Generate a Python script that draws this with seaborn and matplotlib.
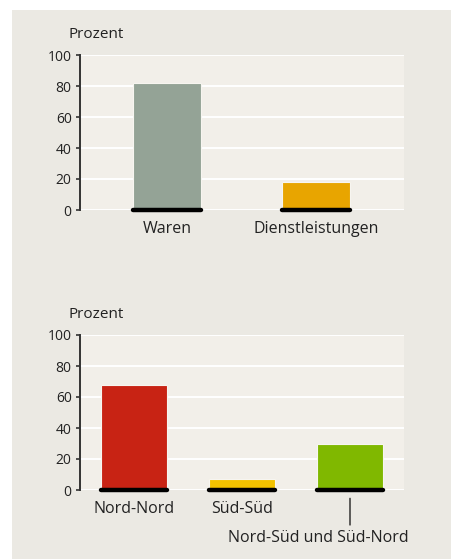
import matplotlib
matplotlib.use("Agg")
import matplotlib.pyplot as plt
import seaborn as sns
import pandas as pd
from matplotlib.patches import Rectangle

# Data
sektoren = ["Waren", "Dienstleistungen"]
sektor_werte = [82, 18]
sektor_farben = ["#94a396", "#e8a500"]

richtungen = ["Nord-Nord", "Süd-Süd", "Nord-Süd und Süd-Nord"]
richtung_werte = [68, 7, 30]
richtung_farben = ["#c82314", "#f2c200", "#80b800"]

y_ticks = [0, 20, 40, 60, 80, 100]

sns.set_theme(style="white")
plt.rcParams["font.family"] = ["Open Sans", "DejaVu Sans"]

panel_bg = "#ebe9e3"
plot_bg = "#f2efe9"
text_col = "#222222"

fig = plt.figure(figsize=(4.51, 5.59), dpi=100)
fig.patch.set_facecolor("white")
fig.patches.append(Rectangle((12 / 451, 0), 1, 1 - 10 / 559, transform=fig.transFigure,
                             facecolor=panel_bg, edgecolor="none", zorder=-10))

ax1 = fig.add_axes([80 / 451, 1 - 210 / 559, 324 / 451, 155 / 559])
ax2 = fig.add_axes([80 / 451, 1 - 490 / 559, 324 / 451, 155 / 559])


def style_axis(ax, cats, vals, cols, width, xlim):
    df = pd.DataFrame({"cat": cats, "val": vals})
    sns.barplot(data=df, x="cat", y="val", hue="cat", palette=cols, width=width,
                saturation=1, dodge=False, legend=False,
                edgecolor="#f7f5f0", linewidth=0.8, ax=ax)
    ax.set_facecolor(plot_bg)
    ax.set_ylim(0, 100)
    ax.set_xlim(*xlim)
    ax.set_yticks(y_ticks)
    ax.yaxis.grid(True, color="white", linewidth=1.4)
    ax.set_axisbelow(True)
    for s in ["top", "right", "bottom"]:
        ax.spines[s].set_visible(False)
    ax.spines["left"].set_color("#333333")
    ax.spines["left"].set_linewidth(1.4)
    ax.tick_params(axis="y", left=True, length=3, width=1.2, color="#333333",
                   labelsize=10, labelcolor=text_col, pad=3)
    ax.tick_params(axis="x", bottom=False, labelsize=11.5, labelcolor=text_col, pad=2)
    ax.set_xlabel("")
    ax.set_ylabel("")
    ax.annotate("Prozent", xy=(0, 1), xycoords="axes fraction",
                xytext=(-11, 20), textcoords="offset pixels",
                fontsize=11, color=text_col, ha="left", va="center")
    # thick black base line under every bar
    for p in ax.patches:
        x0 = p.get_x()
        x1 = x0 + p.get_width()
        ax.plot([x0, x1], [0, 0], color="black", linewidth=3.2,
                solid_capstyle="round", clip_on=False, zorder=5)


style_axis(ax1, sektoren, sektor_werte, sektor_farben, 0.455, (-0.585, 1.59))
style_axis(ax2, richtungen, richtung_werte, richtung_farben, 0.62, (-0.5, 2.5))

# third label sits lower, with a leader line
ax2.set_xticks(range(len(richtungen)))
ax2.set_xticklabels(richtungen[:2] + [""])
ax2.annotate("", xy=(2, 0), xycoords="data",
             xytext=(0, -35), textcoords="offset pixels",
             arrowprops=dict(arrowstyle="-", color="#222222", linewidth=1,
                             shrinkA=0, shrinkB=6),
             annotation_clip=False)
ax2.annotate(richtungen[2], xy=(2, 0), xycoords="data",
             xytext=(-32, -48), textcoords="offset pixels",
             ha="center", va="center", fontsize=11.5, color=text_col,
             annotation_clip=False)

fig.savefig("out.png", dpi=100, facecolor=fig.get_facecolor())
